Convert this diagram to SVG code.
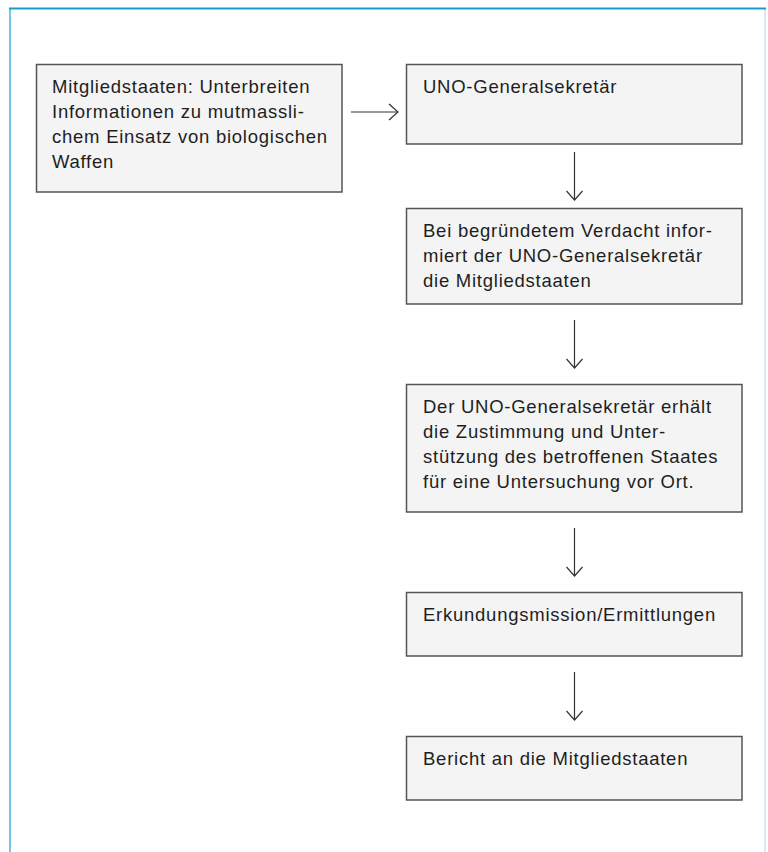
<svg xmlns="http://www.w3.org/2000/svg" width="768" height="852" viewBox="0 0 768 852">
  <defs>
    <style>
      .box { fill: #f4f4f4; stroke: #555555; stroke-width: 1.5; }
      .txt { font-family: "Liberation Sans", Arial, sans-serif; font-size: 18.5px; letter-spacing: 0.75px; fill: #1e1e1e; }
      .conn { fill: none; stroke: #333333; stroke-width: 1.2; }
    </style>
    <marker id="arr" viewBox="0 0 20 20" refX="10" refY="10" markerWidth="20" markerHeight="20" markerUnits="userSpaceOnUse" orient="auto">
      <path d="M1 2 L10 10 L1 18" fill="none" stroke="#333333" stroke-width="1.2"/>
    </marker>
  </defs>

  <rect x="0" y="0" width="768" height="852" fill="#ffffff"/>

  <g id="frame">
    <line x1="10" y1="9" x2="10" y2="852" stroke="#74c7e6" stroke-width="2"/>
    <line x1="765" y1="9" x2="765" y2="852" stroke="#c3e4f1" stroke-width="1.5"/>
    <line x1="9" y1="8.5" x2="766" y2="8.5" stroke="#1a9ccf" stroke-width="1.8"/>
  </g>

  <g id="node-mitgliedstaaten">
    <rect class="box" x="36.5" y="64.5" width="305.5" height="127.5"/>
    <text class="txt" x="52" y="93">Mitgliedstaaten: Unterbreiten</text>
    <text class="txt" x="52" y="118">Informationen zu mutmassli-</text>
    <text class="txt" x="52" y="143">chem Einsatz von biologischen</text>
    <text class="txt" x="52" y="168">Waffen</text>
  </g>

  <g id="node-generalsekretaer">
    <rect class="box" x="406.5" y="64.5" width="335.5" height="79.5"/>
    <text class="txt" x="423" y="93">UNO-Generalsekretär</text>
  </g>

  <g id="node-verdacht">
    <rect class="box" x="406.5" y="208.5" width="335.5" height="95.5"/>
    <text class="txt" x="423" y="237">Bei begründetem Verdacht infor-</text>
    <text class="txt" x="423" y="262">miert der UNO-Generalsekretär</text>
    <text class="txt" x="423" y="287">die Mitgliedstaaten</text>
  </g>

  <g id="node-zustimmung">
    <rect class="box" x="406.5" y="384.5" width="335.5" height="127.5"/>
    <text class="txt" x="423" y="413">Der UNO-Generalsekretär erhält</text>
    <text class="txt" x="423" y="438">die Zustimmung und Unter-</text>
    <text class="txt" x="423" y="463">stützung des betroffenen Staates</text>
    <text class="txt" x="423" y="488">für eine Untersuchung vor Ort.</text>
  </g>

  <g id="node-erkundung">
    <rect class="box" x="406.5" y="592.5" width="335.5" height="63.5"/>
    <text class="txt" x="423" y="621">Erkundungsmission/Ermittlungen</text>
  </g>

  <g id="node-bericht">
    <rect class="box" x="406.5" y="736.5" width="335.5" height="63.5"/>
    <text class="txt" x="423" y="765">Bericht an die Mitgliedstaaten</text>
  </g>

  <g id="connectors">
    <line class="conn" x1="351" y1="112" x2="398" y2="112" marker-end="url(#arr)"/>
    <line class="conn" x1="574.5" y1="152" x2="574.5" y2="200" marker-end="url(#arr)"/>
    <line class="conn" x1="574.5" y1="320" x2="574.5" y2="368" marker-end="url(#arr)"/>
    <line class="conn" x1="574.5" y1="528" x2="574.5" y2="576" marker-end="url(#arr)"/>
    <line class="conn" x1="574.5" y1="672" x2="574.5" y2="720" marker-end="url(#arr)"/>
  </g>
</svg>
